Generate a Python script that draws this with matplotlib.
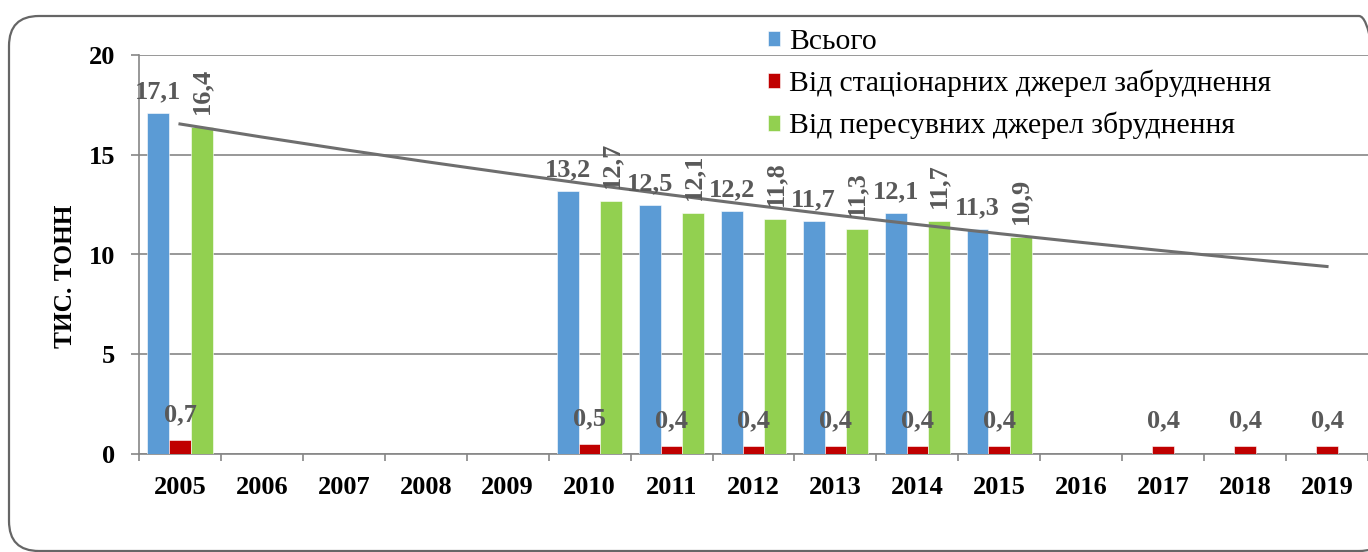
import matplotlib.pyplot as plt
import numpy as np
from matplotlib.patches import FancyBboxPatch
from matplotlib.transforms import IdentityTransform

plt.rcParams['font.family'] = ['Liberation Serif', 'DejaVu Serif']

years = ['2005', '2006', '2007', '2008', '2009', '2010', '2011', '2012',
         '2013', '2014', '2015', '2016', '2017', '2018', '2019']
total = [17.1, None, None, None, None, 13.2, 12.5, 12.2, 11.7, 12.1, 11.3,
         None, None, None, None]
stationary = [0.7, None, None, None, None, 0.5, 0.4, 0.4, 0.4, 0.4, 0.4,
              None, 0.4, 0.4, 0.4]
mobile = [16.4, None, None, None, None, 12.7, 12.1, 11.8, 11.3, 11.7, 10.9,
          None, None, None, None]
labels = ['Всього', 'Від стаціонарних джерел забруднення',
          'Від пересувних джерел збруднення']

c_blue = '#5B9BD5'
c_red = '#C00000'
c_green = '#92D050'
c_lbl = '#595959'
c_grid = '#868686'

fig = plt.figure(figsize=(13.68, 5.52), dpi=100)
ax = fig.add_axes([139 / 1368, 98 / 552, 1229 / 1368, 399 / 552])

x = np.arange(len(years))
w = 0.265


def to_arr(v):
    return np.array([np.nan if a is None else a for a in v], dtype=float)


t, s, m = to_arr(total), to_arr(stationary), to_arr(mobile)

b1 = ax.bar(x - w, t, w, color=c_blue, edgecolor='white', linewidth=0.4, label=labels[0], zorder=3)
b2 = ax.bar(x, s, w, color=c_red, edgecolor='white', linewidth=0.4, label=labels[1], zorder=3)
b3 = ax.bar(x + w, m, w, color=c_green, edgecolor='white', linewidth=0.4, label=labels[2], zorder=3)

# exponential trend of the "total" series (like Excel)
ok = ~np.isnan(t)
k, b = np.polyfit(x[ok] + 1, np.log(t[ok]), 1)
ax.plot(x, np.exp(b + k * (x + 1)), color='#6E6E6E', lw=2.2, zorder=4)

def fmt(v):
    return f'{v:.1f}'.replace('.', ',')

lbl_kw = dict(color=c_lbl, fontsize=19, fontweight='bold', textcoords='offset points', zorder=5)
for i in range(len(x)):
    if not np.isnan(t[i]):
        ax.annotate(fmt(t[i]), (x[i] - w, t[i]), xytext=(0, 7), ha='center', va='bottom', **lbl_kw)
    if not np.isnan(s[i]):
        ax.annotate(fmt(s[i]), (x[i], s[i]), xytext=(0, 10), ha='center', va='bottom', **lbl_kw)
    if not np.isnan(m[i]):
        ax.annotate(fmt(m[i]), (x[i] + w, m[i]), xytext=(0, 9), ha='center', va='bottom',
                    rotation=90, **lbl_kw)

ax.set_xlim(-0.5, len(years) - 0.5)
ax.set_ylim(0, 20)
ax.set_yticks([0, 5, 10, 15, 20])
ax.set_xticks(x)
ax.set_xticklabels(years)
ax.set_xticks(np.arange(-0.5, len(years)), minor=True)
ax.tick_params(axis='x', which='major', length=0, pad=16, labelsize=19)
ax.tick_params(axis='x', which='minor', length=5, color=c_grid, width=1.2)
ax.tick_params(axis='y', length=6, color=c_grid, width=1.2, pad=11, labelsize=19)
for lab in ax.get_xticklabels() + ax.get_yticklabels():
    lab.set_fontweight('bold')

ax.grid(axis='y', color=c_grid, lw=1.2, zorder=0)
for sp in ['top', 'right']:
    ax.spines[sp].set_visible(False)
for sp in ['left', 'bottom']:
    ax.spines[sp].set_color(c_grid)
    ax.spines[sp].set_linewidth(1.2)
ax.set_facecolor('none')

ax.set_ylabel('ТИС. ТОНН', fontsize=18.3, fontweight='bold')
ax.yaxis.set_label_coords(-62 / 1229, 0.445)

fig.legend(handles=[b1, b2, b3], loc='upper left', bbox_to_anchor=(756 / 1368, 1 - 17 / 552),
           frameon=False, prop={'family': 'Liberation Serif', 'size': 21.3},
           handlelength=0.42, handleheight=0.42,
           handletextpad=0.3, labelspacing=0.5, borderaxespad=0)

frame = FancyBboxPatch((9, 1), 1380, 535, boxstyle='round,pad=0,rounding_size=30',
                       transform=IdentityTransform(), fill=False, ec='#666666', lw=1.6)
fig.patches.append(frame)

fig.savefig('out.png', dpi=100)
